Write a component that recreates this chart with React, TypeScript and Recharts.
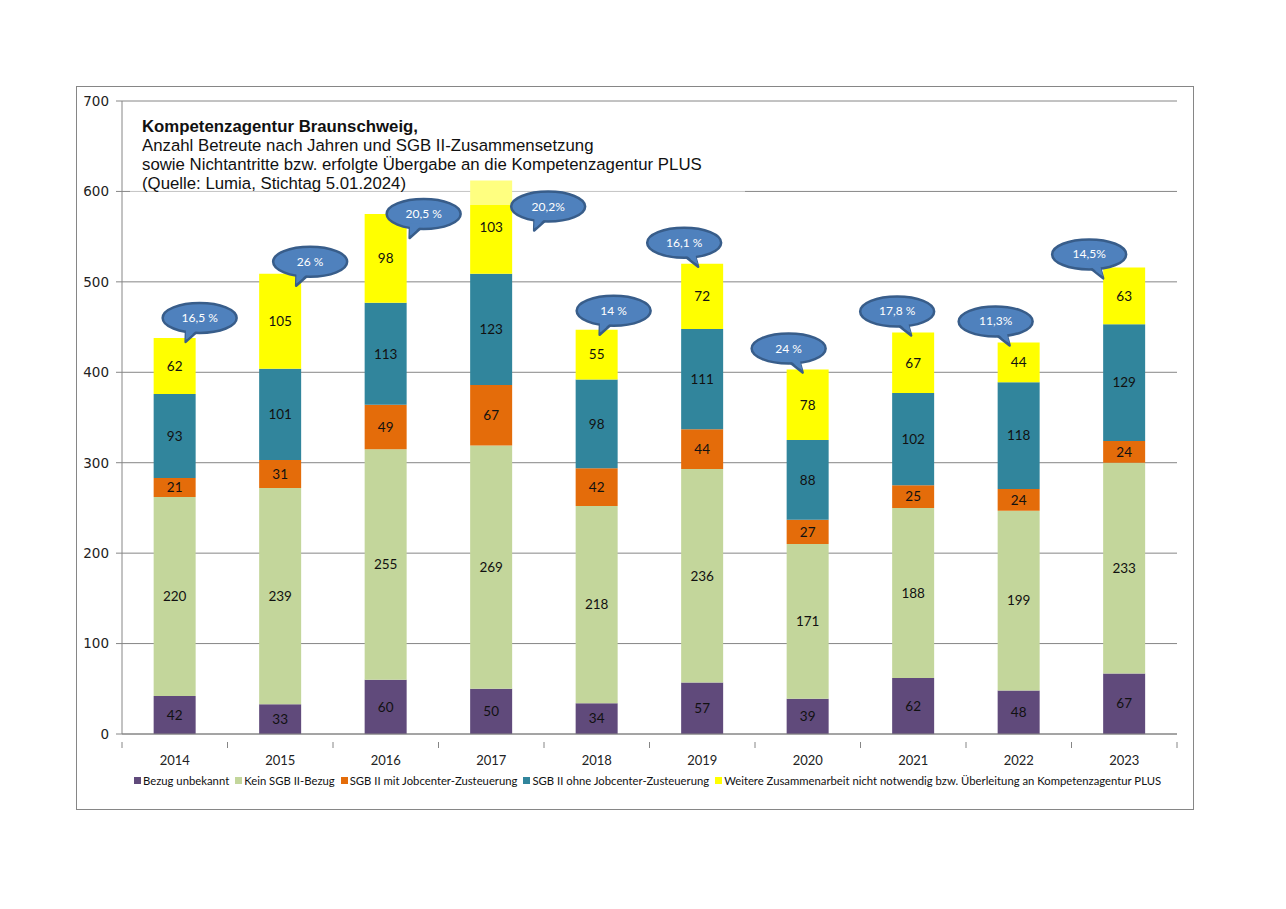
import { BarChart, Bar, XAxis, YAxis, CartesianGrid, LabelList } from "recharts"

const years = ['2014', '2015', '2016', '2017', '2018', '2019', '2020', '2021', '2022', '2023']
const bezugUnbekannt = [42, 33, 60, 50, 34, 57, 39, 62, 48, 67]
const keinSgb = [220, 239, 255, 269, 218, 236, 171, 188, 199, 233]
const mitJobcenter = [21, 31, 49, 67, 42, 44, 27, 25, 24, 24]
const ohneJobcenter = [93, 101, 113, 123, 98, 111, 88, 102, 118, 129]
const weitere = [62, 105, 98, 103, 55, 72, 78, 67, 44, 63]
const quoten = ['16,5 %', '26 %', '20,5 %', '20,2%', '14 %', '16,1 %', '24 %', '17,8 %', '11,3%', '14,5%']
const yTicks = [0, 100, 200, 300, 400, 500, 600, 700]

const SERIES = [
    { key: 'bezug', name: 'Bezug unbekannt', color: '#604A7B' },
    { key: 'kein', name: 'Kein SGB II-Bezug', color: '#C3D69B' },
    { key: 'mit', name: 'SGB II mit Jobcenter-Zusteuerung', color: '#E46C0A' },
    { key: 'ohne', name: 'SGB II ohne Jobcenter-Zusteuerung', color: '#31859C' },
    { key: 'weitere', name: 'Weitere Zusammenarbeit nicht notwendig bzw. Überleitung an Kompetenzagentur PLUS', color: '#FFFF00' },
]

// where each callout sits relative to the top of its bar (pixels)
const BUBBLE_OFFSETS = [[25, -20], [30, -12], [38, 0], [57, 26], [17, -19], [-18, -21], [-19, -21], [-16, -21], [-23, -21], [-35, -13]]

const data = years.map((year, i) => ({
    year,
    bezug: bezugUnbekannt[i],
    kein: keinSgb[i],
    mit: mitJobcenter[i],
    ohne: ohneJobcenter[i],
    weitere: weitere[i],
    quote: quoten[i],
}))

const GRID = '#868686'
const LABEL_FONT = 'Lato, "Open Sans", sans-serif'

function YearTick(props: any) {
    const { x, y, payload, index } = props
    const half = 105.5 / 2
    return (
        <g>
            <line x1={x - half} y1={y} x2={x - half} y2={y + 6} stroke={GRID} />
            {index === years.length - 1 && (
                <line x1={x + half} y1={y} x2={x + half} y2={y + 6} stroke={GRID} />
            )}
            <text x={x} y={y + 23} textAnchor="middle" fontSize={13} fontFamily={LABEL_FONT} fill="#222">
                {payload.value}
            </text>
        </g>
    )
}

function Bubble(props: any) {
    const { x, y, width, index, value } = props
    const barCenter = x + width / 2
    const [dx, dy] = BUBBLE_OFFSETS[index]
    const cx = barCenter + dx
    const cy = y + dy
    const rx = 37
    const ry = 15
    const tipX = cx + Math.max(-14, Math.min(14, barCenter - cx))
    const baseX = cx + (tipX - cx) * 0.4
    const tail = `M${baseX - 8},${cy + ry - 4} L${tipX},${cy + ry + 9} L${baseX + 5},${cy + ry - 3} Z`
    return (
        <g>
            {index === 0 && (
                // semi transparent box behind the title
                <rect x={130} y={105} width={615} height={100} fill="#fff" fillOpacity={0.5} />
            )}
            <path d={tail} fill="#4F81BD" stroke="#385D8A" strokeWidth={2.5} strokeLinejoin="round" />
            <ellipse cx={cx} cy={cy} rx={rx} ry={ry} fill="#4F81BD" stroke="#385D8A" strokeWidth={2.5} />
            <path d={tail} fill="#4F81BD" stroke="none" transform={`translate(0,-2)`} />
            <text x={cx} y={cy + 4} textAnchor="middle" fontSize={12} fontFamily={LABEL_FONT} fill="#fff">
                {value}
            </text>
        </g>
    )
}

export default function App() {
    return (
        <div style={{ position: 'absolute', left: 0, top: 0, width: 1286, height: 909, background: '#fff' }}>
            <div style={{ position: 'absolute', left: 76, top: 86, width: 1116, height: 722, border: `1px solid ${GRID}` }} />
            <BarChart
                width={1286}
                height={909}
                data={data}
                margin={{ top: 101, right: 109, left: 62, bottom: 145 }}
                barCategoryGap="30%"
                style={{ position: 'absolute', left: 0, top: 0 }}
            >
                <CartesianGrid vertical={false} stroke={GRID} />
                <XAxis dataKey="year" height={30} axisLine={{ stroke: GRID }} tickLine={false} tick={<YearTick />} interval={0} />
                <YAxis
                    width={60}
                    domain={[0, 700]}
                    ticks={yTicks}
                    axisLine={{ stroke: GRID }}
                    tickLine={{ stroke: GRID }}
                    tickSize={6}
                    tickMargin={7}
                    tick={{ fill: '#222', fontSize: 13.5, fontFamily: '"DejaVu Sans", Verdana, sans-serif' }}
                />
                {SERIES.map((s, i) => (
                    <Bar key={s.key} dataKey={s.key} name={s.name} stackId="a" fill={s.color} isAnimationActive={false}>
                        <LabelList dataKey={s.key} position="center" fill="#111" fontSize={13.5} fontFamily={LABEL_FONT} />
                        {i === SERIES.length - 1 && <LabelList dataKey="quote" content={<Bubble />} />}
                    </Bar>
                ))}
            </BarChart>
            <div style={{ position: 'absolute', left: 142, top: 117, fontFamily: '"Liberation Sans", Arial, sans-serif', fontSize: 16.8, lineHeight: '19px', color: '#111', whiteSpace: 'nowrap' }}>
                <div style={{ fontWeight: 'bold' }}>Kompetenzagentur Braunschweig,</div>
                <div>Anzahl Betreute nach Jahren und SGB II-Zusammensetzung</div>
                <div>sowie Nichtantritte bzw. erfolgte Übergabe an die Kompetenzagentur PLUS</div>
                <div>(Quelle: Lumia, Stichtag 5.01.2024)</div>
            </div>
            <div style={{ position: 'absolute', left: 134, top: 774, display: 'flex', gap: 6, fontFamily: LABEL_FONT, fontSize: 11.3, color: '#111', whiteSpace: 'nowrap' }}>
                {SERIES.map(s => (
                    <div key={s.key} style={{ display: 'flex', alignItems: 'center', gap: 2 }}>
                        <span style={{ display: 'inline-block', width: 7, height: 7, background: s.color }} />
                        <span>{s.name}</span>
                    </div>
                ))}
            </div>
        </div>
    )
}
